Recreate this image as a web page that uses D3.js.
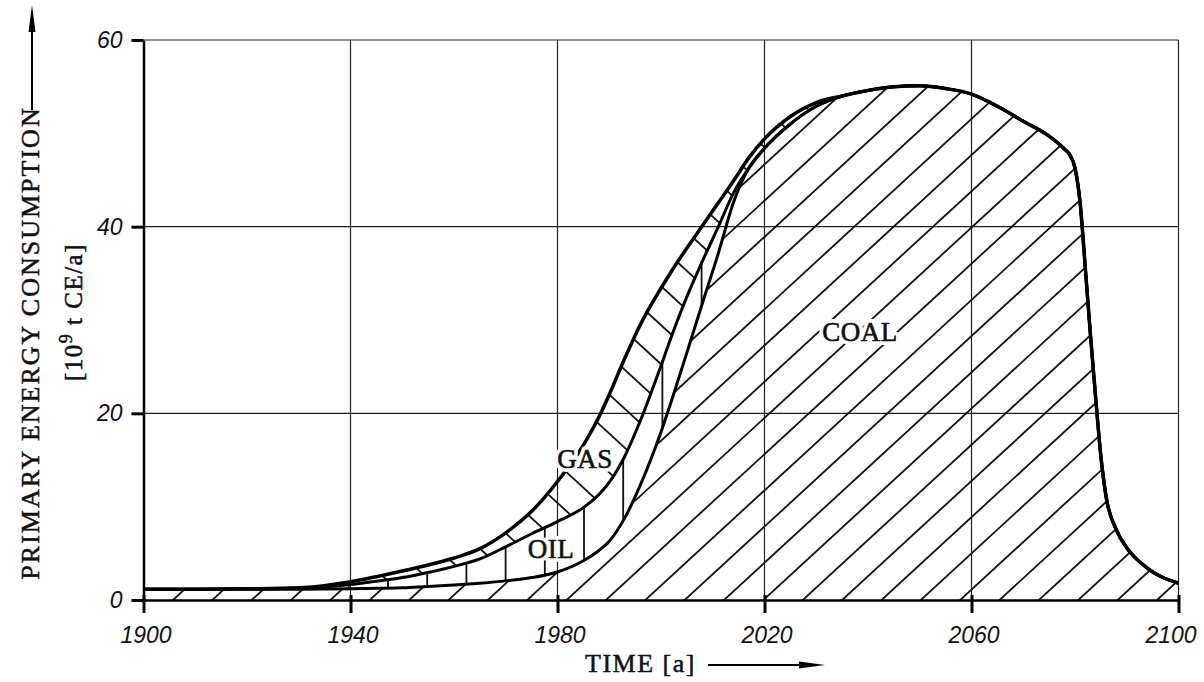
<!DOCTYPE html>
<html>
<head>
<meta charset="utf-8">
<script src="https://cdn.jsdelivr.net/npm/d3@7"></script>
<style>
    body { margin: 0; background: #fff; }
    .tick text { font-family: 'Liberation Sans', Arial, sans-serif; font-style: italic; font-size: 23px; fill: #111; }
    .title { font-family: 'Liberation Serif', 'Times New Roman', serif; fill: #111; stroke: #111; stroke-width: 0.5px; }
    .label { font-family: 'Liberation Serif', 'Times New Roman', serif; font-size: 27px; fill: #111; }
    .halo { stroke: #fff; stroke-width: 8px; stroke-linejoin: round; }
    .ink { stroke: #111; stroke-width: 0.6px; }
</style>
</head>
<body>
<script>
// values (10^9 t CE/a)
const years = [1900, 1910, 1920, 1930, 1940, 1945, 1950, 1955, 1960, 1965,
    1970, 1975, 1980, 1985, 1988, 1990, 1993, 1996, 2000, 2002,
    2005, 2008, 2011, 2014, 2017, 2020, 2025, 2030, 2035, 2040,
    2045, 2050, 2055, 2060, 2065, 2070, 2075, 2078, 2079, 2080,
    2081, 2082, 2083, 2084, 2085, 2086, 2088, 2090, 2094, 2100];

const coal = [1.15, 1.15, 1.15, 1.15, 1.2, 1.25, 1.3, 1.45, 1.6, 1.8,
    2.05, 2.4, 3.0, 4.2, 5.3, 6.3, 8.8, 12.3, 18.0, 21.3,
    26.5, 31.8, 37.0, 42.6, 46.3, 48.4, 51.0, 52.9, 54.0, 54.6,
    55.0, 55.1, 54.8, 54.2, 52.9, 51.3, 49.7, 48.3, 47.7, 46.3,
    42.5, 35.5, 28.3, 21.6, 15.4, 11.1, 7.5, 5.6, 3.4, 1.8];

const oil = [0, 0, 0.05, 0.1, 0.45, 0.75, 1.1, 1.5, 2.0, 2.6,
    3.65, 4.7, 5.4, 5.7, 6.0, 6.3, 6.6, 6.9, 7.1, 6.9,
    6.0, 4.5, 2.9, 1.0, 0, 0, 0, 0, 0, 0,
    0, 0, 0, 0, 0, 0, 0, 0, 0, 0,
    0, 0, 0, 0, 0, 0, 0, 0, 0, 0];

const gas = [0, 0, 0, 0.05, 0.3, 0.5, 0.7, 0.8, 0.9, 1.1,
    1.5, 2.4, 4.3, 6.7, 8.3, 9.4, 10.5, 10.3, 8.3, 7.0,
    5.2, 3.8, 2.6, 1.3, 1.1, 1.0, 0.8, 0.4, 0, 0,
    0, 0, 0, 0, 0, 0, 0, 0, 0, 0,
    0, 0, 0, 0, 0, 0, 0, 0, 0, 0];

const xTicks = [1900, 1940, 1980, 2020, 2060, 2100];
const yTicks = [0, 20, 40, 60];

const width = 1204,
    height = 682;

const svg = d3.select('body').append('svg')
    .attr('width', width)
    .attr('height', height);

const x = d3.scaleLinear().domain([1900, 2100]).range([143.5, 1178.5]);
const y = d3.scaleLinear().domain([0, 60]).range([600, 40]);

const table = years.map((yr, i) => ({year: yr, coal: coal[i], oil: oil[i], gas: gas[i]}));
const series = d3.stack().keys(['coal', 'oil', 'gas'])(table);

// grid
svg.append('g').selectAll('line')
    .data(xTicks.slice(1))
    .enter().append('line')
    .attr('x1', d => x(d)).attr('x2', d => x(d))
    .attr('y1', y(60)).attr('y2', y(0))
    .style('stroke', '#222').style('stroke-width', 1.2);

svg.append('g').selectAll('line')
    .data(yTicks.slice(1))
    .enter().append('line')
    .attr('x1', x(1900)).attr('x2', x(2100))
    .attr('y1', d => y(d)).attr('y2', d => y(d))
    .style('stroke', '#222').style('stroke-width', 1.2);

// clip paths for the hatching
const areaGen = d3.area()
    .x(d => x(d.data.year))
    .y0(d => y(d[0]))
    .y1(d => y(d[1]))
    .curve(d3.curveMonotoneX);

const defs = svg.append('defs');
series.forEach(s => {
    defs.append('clipPath').attr('id', 'clip-' + s.key)
        .append('path').attr('d', areaGen(s));
});

// coal: lines rising to the right
const coalHatch = svg.append('g').attr('clip-path', 'url(#clip-coal)');
d3.range(-16, 27).forEach(k => {
    const bx = 173 + 39.36 * k;
    coalHatch.append('line')
        .attr('x1', bx - 20).attr('y1', 600 + 20 * 0.92)
        .attr('x2', bx + 640).attr('y2', 600 - 640 * 0.92)
        .style('stroke', '#111').style('stroke-width', 1.8);
});

// oil: vertical lines
const oilHatch = svg.append('g').attr('clip-path', 'url(#clip-oil)');
d3.range(-7, 21).forEach(k => {
    const vx = 388 + 39.2 * k;
    oilHatch.append('line')
        .attr('x1', vx).attr('x2', vx)
        .attr('y1', 30).attr('y2', 610)
        .style('stroke', '#111').style('stroke-width', 1.8);
});

// gas: lines falling to the right
const gasHatch = svg.append('g').attr('clip-path', 'url(#clip-gas)');
d3.range(-23, 18).forEach(k => {
    const c = -205 + 39 * k;
    gasHatch.append('line')
        .attr('x1', 130).attr('y1', 0.92 * 130 + c)
        .attr('x2', 1190).attr('y2', 0.92 * 1190 + c)
        .style('stroke', '#111').style('stroke-width', 1.8);
});

// boundary curves
const lineGen = d3.line()
    .x(d => x(d.data.year))
    .y(d => y(d[1]))
    .curve(d3.curveMonotoneX);

svg.append('g').selectAll('path')
    .data(series)
    .enter().append('path')
    .attr('d', lineGen)
    .style('fill', 'none')
    .style('stroke', '#000')
    .style('stroke-width', d => d.key === 'gas' ? 3.5 : 3)
    .style('stroke-linejoin', 'round');

// axes
const xAxis = svg.append('g')
    .attr('transform', 'translate(0,' + y(0) + ')')
    .call(d3.axisBottom(x).tickValues(xTicks).tickSize(13).tickSizeOuter(0).tickPadding(14).tickFormat(d3.format('d')));
xAxis.select('.domain').style('stroke', '#000').style('stroke-width', 2.5);
xAxis.selectAll('.tick line').attr('y1', -5).style('stroke', '#000').style('stroke-width', 3);
xAxis.selectAll('.tick text').attr('dx', d => d === 2100 ? -8 : 2);

const yAxis = svg.append('g')
    .attr('transform', 'translate(' + x(1900) + ',0)')
    .call(d3.axisLeft(y).tickValues(yTicks).tickSize(12).tickSizeOuter(0).tickPadding(9));
yAxis.select('.domain').style('stroke', '#000').style('stroke-width', 2.5);
yAxis.selectAll('.tick line').style('stroke', '#000').style('stroke-width', 3);

// fuel labels: white halo first, then the ink
const labels = [
    {text: 'GAS', x: 585, y: 468},
    {text: 'OIL', x: 551, y: 558},
    {text: 'COAL', x: 860, y: 341}
];
['halo', 'ink'].forEach(cls => {
    svg.append('g').selectAll('text')
        .data(labels)
        .enter().append('text')
        .attr('class', 'label ' + cls)
        .attr('x', d => d.x).attr('y', d => d.y)
        .attr('text-anchor', 'middle')
        .style('letter-spacing', '0.5px')
        .text(d => d.text);
});

// y title
svg.append('text').attr('class', 'title')
    .attr('transform', 'translate(39,343) rotate(-90)')
    .attr('text-anchor', 'middle')
    .style('font-size', '26px')
    .style('letter-spacing', '2px')
    .text('PRIMARY ENERGY CONSUMPTION');

const unit = svg.append('text').attr('class', 'title')
    .attr('transform', 'translate(82,312) rotate(-90)')
    .attr('text-anchor', 'middle')
    .style('font-size', '25px')
    .style('letter-spacing', '1.5px');
unit.append('tspan').text('[10');
unit.append('tspan').attr('dy', -10).style('font-size', '18px').text('9');
unit.append('tspan').attr('dy', 10).text(' t CE/a]');

svg.append('line')
    .attr('x1', 32).attr('x2', 32).attr('y1', 110).attr('y2', 24)
    .style('stroke', '#000').style('stroke-width', 2);
svg.append('path')
    .attr('d', 'M32,5 L28.5,32 L35.5,32 Z')
    .style('fill', '#000');

// x title
svg.append('text').attr('class', 'title')
    .attr('x', 585).attr('y', 672)
    .style('font-size', '26px')
    .style('letter-spacing', '1.5px')
    .text('TIME [a]');

svg.append('line')
    .attr('x1', 708).attr('x2', 805).attr('y1', 665).attr('y2', 665)
    .style('stroke', '#000').style('stroke-width', 2);
svg.append('path')
    .attr('d', 'M825,665 L799,661.5 L799,668.5 Z')
    .style('fill', '#000');
</script>
</body>
</html>
